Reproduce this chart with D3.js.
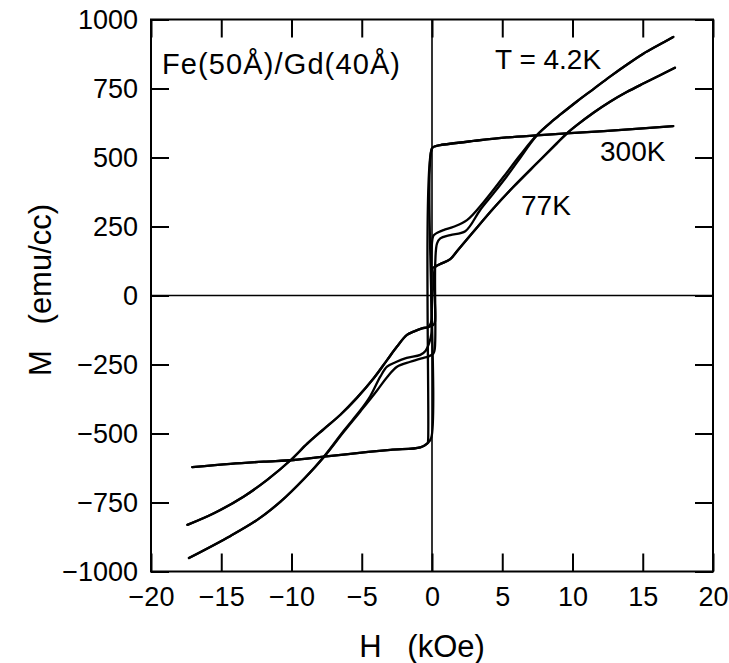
<!DOCTYPE html>
<html>
<head>
<meta charset="utf-8">
<script src="https://cdn.jsdelivr.net/npm/d3@7"></script>
<style>
  body { margin:0; background:#fff; }
  svg { display:block; font-family:"Liberation Sans", Arial, sans-serif; }
  .axis line { stroke:#000; stroke-width:2; }
  .axis path { display:none; }
  .axis text { font-size:27px; fill:#000; font-family:"Liberation Sans", Arial, sans-serif; }
  .curve { fill:none; stroke:#000; stroke-width:2.3; stroke-linejoin:round; stroke-linecap:round; }
  .note { font-size:28px; fill:#000; }
  .title { font-size:31px; fill:#000; }
</style>
</head>
<body>
<svg id="chart" width="729" height="663"></svg>
<script>
// ticks
var hTicks = [-20, -15, -10, -5, 0, 5, 10, 15, 20];
var mTicks = [-1000, -750, -500, -250, 0, 250, 500, 750, 1000];

// M(H), [H (kOe), M (emu/cc)]
// 4.2 K, field going down from +17 kOe
var t42Down = [[17.17,937],[16.23,910],[15.04,876],[13.86,836],[12.67,793],[11.49,748],[10.31,703],[9.12,655],
  [8.64,635],[7.46,581],[6.28,509],[5.09,430],[3.67,338],[2.49,273],[1.54,249],[0.82,237],[0.3,225],[0.08,215],
  [-0.05,-140],[-0.2,-172],[-0.45,-200],[-0.83,-215],[-1.8,-226],[-2.6,-242],[-3.2,-258],[-3.68,-294],[-4.4,-365],
  [-5.1,-416],[-6.28,-490],[-7.7,-584],[-9.12,-665],[-10.78,-747],[-12.44,-813],[-14.34,-871],[-17.3,-951]];
// 4.2 K, field going up from -17 kOe
var t42Up = [[-17.3,-951],[-14.34,-871],[-12.44,-813],[-10.78,-747],[-9.12,-665],[-7.7,-586],[-6.28,-494],
  [-5.1,-420],[-3.91,-344],[-3.2,-296],[-2.49,-258],[-1.54,-240],[-0.6,-226],[-0.31,-222],[0.1,-210],[0.2,-192],
  [0.23,117],[0.36,189],[0.59,207],[1.3,219],[2.37,233],[3.43,310],[4.38,370],[5.33,432],[6.1,486],[7.46,580],
  [8.64,635],[9.12,655],[10.31,703],[11.49,748],[12.67,793],[13.86,836],[15.04,876],[16.23,910],[17.17,937]];

// 77 K, both branches lie on top of each other away from H = 0
var t77Neg = [[-17.41,-831],[-15.52,-789],[-13.39,-728],[-11.73,-668],[-10.07,-597],[-8.88,-537],[-7.7,-484],
  [-6.52,-432],[-5.33,-370],[-4.15,-300],[-3.2,-234],[-2.49,-185],[-1.78,-143],[-1.31,-131],[-0.71,-119],[-0.31,-115]];
var t77Pos = [[0.23,104],[0.59,114],[1.3,132],[1.85,165],[2.9,228],[4.38,316],[5.8,394],[7.46,479],[8.88,551],
  [9.55,585],[10.31,617],[11.49,662],[12.67,702],[13.86,737],[15.04,768],[16.23,798],[17.29,825]];
var t77SwitchUp = [[0.05,-108],[0.2,-98]];
var t77SwitchDown = [[0.02,98],[-0.08,-100]];

// 300 K, square loop
var t300Neg = [[-17.06,-622],[-14.34,-610],[-11.97,-602],[-9.84,-596],[-7.7,-584],[-5.33,-571],[-2.96,-559],
  [-0.83,-550],[-0.31,-535]];
var t300Pos = [[0.0,533],[0.23,541],[0.59,545],[2.96,560],[5.33,573],[7.7,581],[9.83,588],[13.5,600],[17.17,614]];
var t300SwitchUp = [[-0.05,-515]];
var t300SwitchDown = [[-0.28,-528]];

var plotL = 151, plotR = 713, plotT = 19.5, plotB = 571.5;

var svg = d3.select("#chart");

var x = d3.scaleLinear().domain([-20, 20]).range([plotL, plotR]);
var y = d3.scaleLinear().domain([-1000, 1000]).range([plotB, plotT]);
var fmt = d3.format("d");

// axes, ticks pointing inwards
svg.append("g").attr("class","axis")
    .attr("transform","translate(0," + plotB + ")")
    .call(d3.axisBottom(x).tickValues(hTicks).tickSize(-18).tickPadding(15).tickFormat(fmt));
svg.append("g").attr("class","axis")
    .attr("transform","translate(" + plotL + ",0)")
    .call(d3.axisLeft(y).tickValues(mTicks).tickSize(-18).tickPadding(13).tickFormat(fmt));
svg.append("g").attr("class","axis")
    .attr("transform","translate(0," + plotT + ")")
    .call(d3.axisTop(x).tickValues(hTicks).tickSize(-18).tickFormat(""));
svg.append("g").attr("class","axis")
    .attr("transform","translate(" + plotR + ",0)")
    .call(d3.axisRight(y).tickValues(mTicks).tickSize(-18).tickFormat(""));

// zero lines
svg.append("line")
    .attr("x1", x(0)).attr("x2", x(0)).attr("y1", plotT).attr("y2", plotB)
    .attr("stroke","#000").attr("stroke-width",1.6);
svg.append("line")
    .attr("x1", plotL).attr("x2", plotR).attr("y1", y(0)).attr("y2", y(0))
    .attr("stroke","#000").attr("stroke-width",1.6);

// frame
svg.append("rect")
    .attr("x", plotL).attr("y", plotT).attr("width", plotR - plotL).attr("height", plotB - plotT)
    .attr("fill","none").attr("stroke","#000").attr("stroke-width",2);

var line = d3.line()
    .x(d => x(d[0]))
    .y(d => y(d[1]))
    .curve(d3.curveCatmullRom.alpha(0.5));

var branches = [
  t42Down,
  t42Up,
  t77Neg.concat(t77SwitchUp, t77Pos),
  t77Pos.slice().reverse().concat(t77SwitchDown, t77Neg.slice().reverse()),
  t300Neg.concat(t300SwitchUp, t300Pos),
  t300Pos.slice().reverse().concat(t300SwitchDown, t300Neg.slice().reverse())
];

svg.append("g").selectAll("path")
    .data(branches)
   .enter().append("path")
    .attr("class","curve")
    .attr("d", line);

// labels
svg.append("text").attr("class","note").attr("x",162).attr("y",74)
    .attr("textLength",238).attr("lengthAdjust","spacing")
    .style("font-size","29px")
    .text("Fe(50Å)/Gd(40Å)");
svg.append("text").attr("class","note").attr("x",495).attr("y",69).text("T = 4.2K");
svg.append("text").attr("class","note").attr("x",600).attr("y",161).text("300K");
svg.append("text").attr("class","note").attr("x",521).attr("y",215).text("77K");

svg.append("text").attr("class","title")
    .attr("x",422).attr("y",657)
    .attr("text-anchor","middle")
    .style("white-space","pre")
    .text("H   (kOe)");
svg.append("text").attr("class","title")
    .attr("transform","translate(51,290) rotate(-90)")
    .attr("text-anchor","middle")
    .style("white-space","pre")
    .text("M   (emu/cc)");
</script>
</body>
</html>
